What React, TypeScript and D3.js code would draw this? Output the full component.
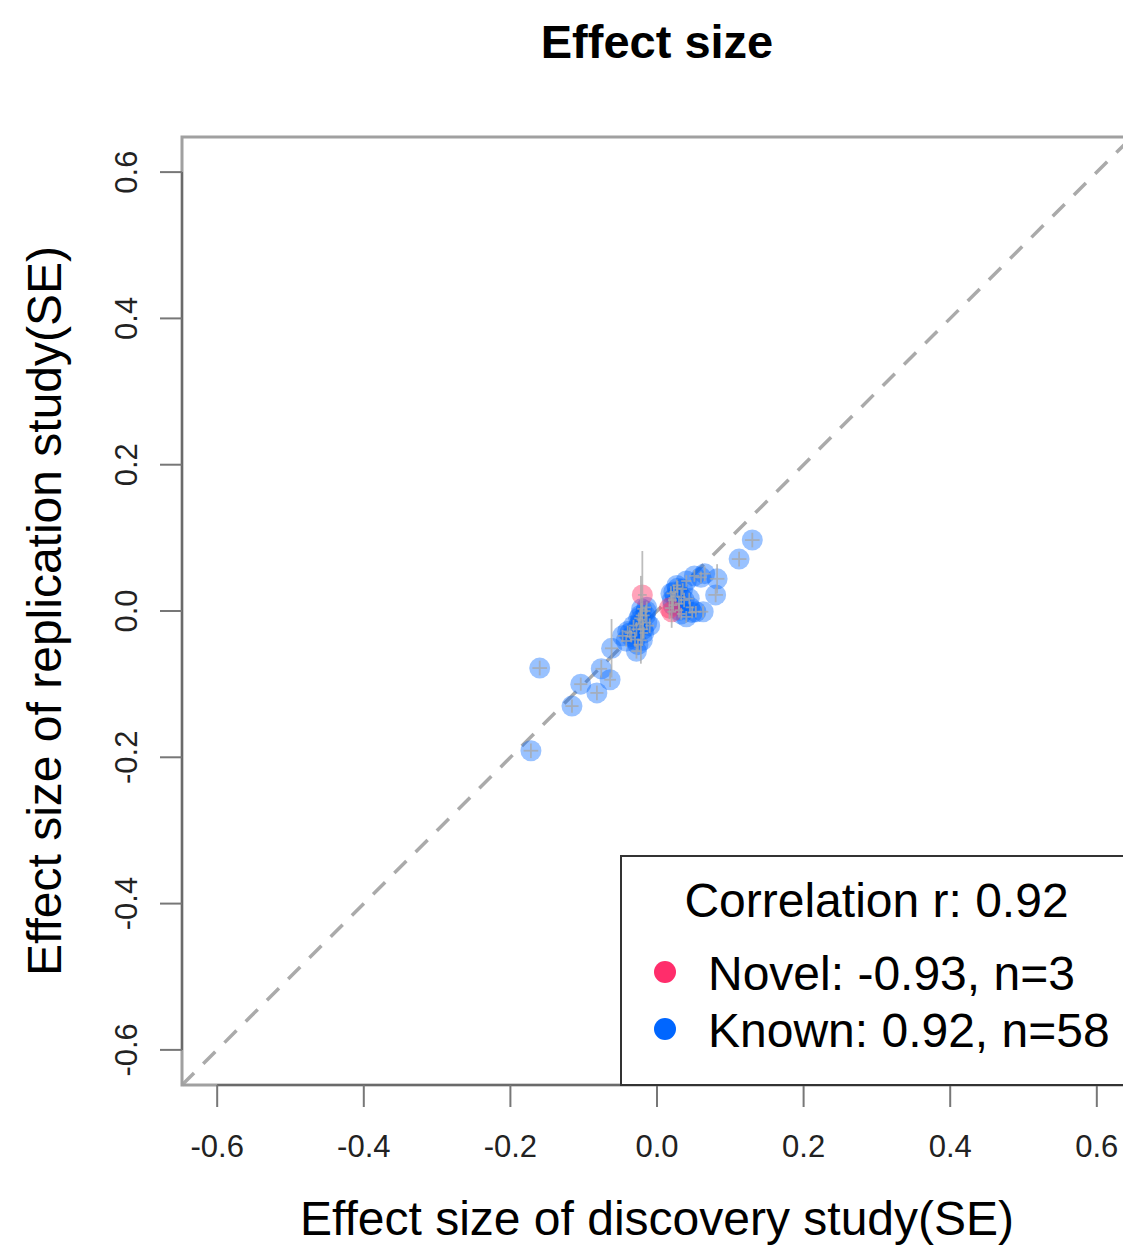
import React from "react";
import * as d3 from "d3";

const knownX = [-0.172, -0.160, -0.116, -0.104, -0.082, -0.076, -0.064, -0.062, 0.130, 0.112, 0.080, 0.082, 0.065,
  -0.021, -0.016, -0.014, -0.019, -0.028, -0.037, -0.047, -0.042, -0.030, -0.028, -0.022, -0.010, -0.023, -0.014,
  0.019, 0.021, 0.028, 0.040, 0.051, 0.060, 0.037, 0.044, 0.053, 0.040, 0.063, 0.030, 0.023, 0.033,
  -0.025, -0.018, -0.032, -0.035, -0.020, -0.026, -0.015, -0.040, -0.024,
  0.025, 0.030, 0.035, 0.027, 0.045, 0.048, 0.022, 0.033];
const knownY = [-0.191, -0.078, -0.130, -0.100, -0.112, -0.079, -0.094, -0.051, 0.097, 0.071, 0.022, 0.044, 0.051,
  0.003, -0.006, -0.016, -0.025, -0.025, -0.030, -0.034, -0.041, -0.039, -0.055, -0.012, -0.020, -0.006, 0.005,
  0.024, 0.015, 0.031, 0.041, 0.048, 0.046, 0.015, 0.017, -0.001, -0.008, -0.001, 0.001, 0.026, 0.019,
  -0.010, -0.030, -0.020, -0.035, -0.040, -0.046, 0.000, -0.028, -0.018,
  0.020, 0.010, 0.030, 0.035, 0.005, -0.002, 0.008, -0.004];
const knownSEx = [0.010, 0.010, 0.009, 0.009, 0.009, 0.008, 0.008, 0.009, 0.010, 0.010, 0.010, 0.010, 0.008,
  0.006, 0.006, 0.006, 0.007, 0.007, 0.007, 0.007, 0.007, 0.007, 0.007, 0.006, 0.006, 0.006, 0.006,
  0.006, 0.006, 0.006, 0.007, 0.007, 0.008, 0.006, 0.006, 0.007, 0.007, 0.007, 0.006, 0.006, 0.006,
  0.006, 0.006, 0.006, 0.006, 0.006, 0.006, 0.006, 0.006, 0.006,
  0.006, 0.006, 0.006, 0.006, 0.006, 0.006, 0.006, 0.006];
const knownSEy = [0.010, 0.010, 0.009, 0.009, 0.010, 0.012, 0.010, 0.040, 0.010, 0.010, 0.010, 0.020, 0.010,
  0.008, 0.010, 0.010, 0.012, 0.010, 0.008, 0.008, 0.008, 0.010, 0.010, 0.060, 0.010, 0.008, 0.008,
  0.010, 0.010, 0.010, 0.008, 0.008, 0.008, 0.010, 0.008, 0.008, 0.008, 0.008, 0.010, 0.010, 0.010,
  0.008, 0.008, 0.008, 0.008, 0.008, 0.008, 0.008, 0.008, 0.008,
  0.008, 0.008, 0.008, 0.008, 0.008, 0.008, 0.008, 0.008];

const novelX = [-0.020, 0.020, 0.017];
const novelY = [0.022, -0.001, 0.004];
const novelSEx = [0.006, 0.006, 0.006];
const novelSEy = [0.060, 0.022, 0.015];

const ticks = [-0.6, -0.4, -0.2, 0.0, 0.2, 0.4, 0.6];
const tickLabels = ["-0.6", "-0.4", "-0.2", "0.0", "0.2", "0.4", "0.6"];

const titleText = "Effect size";
const xLabel = "Effect size of discovery study(SE)";
const yLabel = "Effect size of replication study(SE)";
const legendTitle = "Correlation r: 0.92";
const legendItems = ["Novel: -0.93, n=3", "Known: 0.92, n=58"];
const legendColors = ["#FF2D6B", "#0066FF"];

const W = 1123;
const H = 1245;
const FONT = "'Liberation Sans', Arial, Helvetica, sans-serif";

export default function App() {
  const lim: [number, number] = [-0.648, 0.648];
  const x = d3.scaleLinear().domain(lim).range([182, 1132]);
  const y = d3.scaleLinear().domain(lim).range([1085, 137]);

  const known = knownX.map((v, i) => ({ x: v, y: knownY[i], sx: knownSEx[i], sy: knownSEy[i] }));
  const novel = novelX.map((v, i) => ({ x: v, y: novelY[i], sx: novelSEx[i], sy: novelSEy[i] }));

  const x0 = x(lim[0]), x1 = x(lim[1]), y0 = y(lim[0]), y1 = y(lim[1]);
  const xAxisY = y0;
  const yAxisX = x0;

  const errBars = (pts: typeof known, key: string) =>
    pts.map((p, i) => (
      <g key={key + i} stroke="#a8a8a8" strokeWidth={1.8} opacity={0.75}>
        <line x1={x(p.x - p.sx)} x2={x(p.x + p.sx)} y1={y(p.y)} y2={y(p.y)} />
        <line x1={x(p.x)} x2={x(p.x)} y1={y(p.y - p.sy)} y2={y(p.y + p.sy)} />
      </g>
    ));

  const legX = 621;
  const legY = 856;

  return (
    <svg width={W} height={H} style={{ position: "absolute", left: 0, top: 0, background: "#fff" }} fontFamily={FONT}>
      <rect x={0} y={0} width={W} height={H} fill="#fff" />
      {/* title */}
      <text x={657} y={58} textAnchor="middle" fontSize={47} fontWeight="bold" fill="#000">{titleText}</text>

      {/* diagonal dashed line */}
      <line x1={x(lim[0])} y1={y(lim[0])} x2={x(lim[1])} y2={y(lim[1])}
        stroke="#aaaaaa" strokeWidth={3.5} strokeDasharray="17 13" />

      {/* points */}
      {known.map((p, i) => (
        <circle key={"k" + i} cx={x(p.x)} cy={y(p.y)} r={10.5} fill="#0066FF" fillOpacity={0.4} />
      ))}
      {novel.map((p, i) => (
        <circle key={"n" + i} cx={x(p.x)} cy={y(p.y)} r={10.5} fill="#FF3366" fillOpacity={0.45} />
      ))}
      {errBars(known, "ek")}
      {errBars(novel, "en")}

      {/* box */}
      <rect x={x0} y={y1} width={x1 - x0} height={y0 - y1} fill="none" stroke="#a0a0a0" strokeWidth={3} />

      {/* x axis */}
      <line x1={x(ticks[0])} x2={x(ticks[ticks.length - 1])} y1={xAxisY} y2={xAxisY} stroke="#6a6a6a" strokeWidth={2} />
      {ticks.map((t, i) => (
        <g key={"xt" + i}>
          <line x1={x(t)} x2={x(t)} y1={xAxisY} y2={xAxisY + 22} stroke="#777" strokeWidth={2} />
          <text x={x(t)} y={1157} textAnchor="middle" fontSize={31} fill="#222">{tickLabels[i]}</text>
        </g>
      ))}

      {/* y axis */}
      <line x1={yAxisX} x2={yAxisX} y1={y(ticks[0])} y2={y(ticks[ticks.length - 1])} stroke="#6a6a6a" strokeWidth={2} />
      {ticks.map((t, i) => (
        <g key={"yt" + i}>
          <line x1={yAxisX - 22} x2={yAxisX} y1={y(t)} y2={y(t)} stroke="#777" strokeWidth={2} />
          <text transform={`translate(137,${y(t)}) rotate(-90)`} textAnchor="middle" fontSize={31} fill="#222">{tickLabels[i]}</text>
        </g>
      ))}

      {/* axis labels */}
      <text x={657} y={1235} textAnchor="middle" fontSize={48} fill="#000">{xLabel}</text>
      <text transform={`translate(61,611) rotate(-90)`} textAnchor="middle" fontSize={48} fill="#000">{yLabel}</text>

      {/* legend */}
      <rect x={legX} y={legY} width={x1 - legX} height={y0 - legY} fill="#fff" stroke="#333" strokeWidth={2} />
      <text x={(legX + x1) / 2} y={917} textAnchor="middle" fontSize={48} fill="#000">{legendTitle}</text>
      {legendItems.map((s, i) => (
        <g key={"li" + i}>
          <circle cx={665} cy={972 + i * 57} r={11} fill={legendColors[i]} />
          <text x={708} y={990 + i * 57} fontSize={48} fill="#000">{s}</text>
        </g>
      ))}
    </svg>
  );
}
